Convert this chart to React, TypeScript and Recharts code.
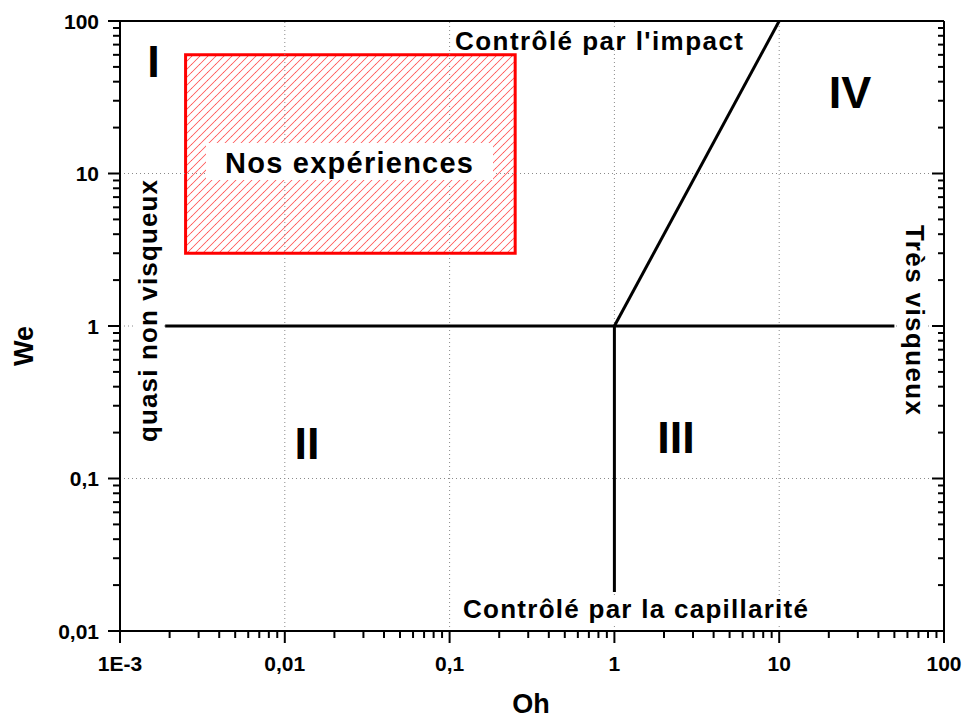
import {
  ComposedChart,
  XAxis,
  YAxis,
  ReferenceLine,
  ReferenceArea,
} from 'recharts';

const FONT = '"Liberation Sans", Arial, Helvetica, sans-serif';

// axis decades and their labels (French decimal comma)
const xMajor = [0.001, 0.01, 0.1, 1, 10, 100];
const xMajorLabels = ['1E-3', '0,01', '0,1', '1', '10', '100'];
const yMajor = [0.01, 0.1, 1, 10, 100];
const yMajorLabels = ['0,01', '0,1', '1', '10', '100'];
const minorSteps = [2, 3, 4, 5, 6, 7, 8, 9];

// regime boundaries (Oh, We)
const lineWeOne = [{ x: 0.00188, y: 1 }, { x: 50, y: 1 }];
const lineOhOne = [{ x: 1, y: 1 }, { x: 1, y: 0.018 }];
const lineImpact = [{ x: 1, y: 1 }, { x: 10, y: 100 }];

// "Nos expériences" box
const expOh = [0.0025, 0.25];
const expWe = [3, 60];

// dotted grid at decades
const xGrid = [0.01, 0.1, 1, 10];
const yGrid = [0.1, 1, 10];

const withMinor = (majors: number[]) => {
  const out: number[] = [];
  majors.forEach((m, i) => {
    out.push(m);
    if (i < majors.length - 1) minorSteps.forEach((s) => out.push(m * s));
  });
  return out;
};

const xTicks = withMinor(xMajor);
const yTicks = withMinor(yMajor);

const majorIndex = (majors: number[], v: number) =>
  majors.findIndex((m) => Math.abs(m - v) / m < 1e-6);

const textStyle = { fontFamily: FONT, fontWeight: 700, fill: '#000' };

const BottomTick = (props: any) => {
  const { x, y, payload } = props;
  const i = majorIndex(xMajor, payload.value);
  if (i < 0) return <line x1={x} x2={x} y1={y} y2={y + 7} stroke="#000" strokeWidth={2} />;
  return (
    <g>
      <line x1={x} x2={x} y1={y} y2={y + 12} stroke="#000" strokeWidth={2} />
      <text x={x} y={y + 40} textAnchor="middle" fontSize={21} {...textStyle}>
        {xMajorLabels[i]}
      </text>
    </g>
  );
};

const TopTick = (props: any) => {
  const { x, y, payload } = props;
  const i = majorIndex(xMajor, payload.value);
  return <line x1={x} x2={x} y1={y} y2={y + (i < 0 ? 6 : 9)} stroke="#000" strokeWidth={2} />;
};

const LeftTick = (props: any) => {
  const { x, y, payload } = props;
  const i = majorIndex(yMajor, payload.value);
  if (i < 0) return <line x1={x - 7} x2={x} y1={y} y2={y} stroke="#000" strokeWidth={2} />;
  return (
    <g>
      <line x1={x - 12} x2={x} y1={y} y2={y} stroke="#000" strokeWidth={2} />
      <text x={x - 21} y={y + 7.5} textAnchor="end" fontSize={21} {...textStyle}>
        {yMajorLabels[i]}
      </text>
    </g>
  );
};

const RightTick = (props: any) => {
  const { x, y, payload } = props;
  const i = majorIndex(yMajor, payload.value);
  return <line x1={x - (i < 0 ? 6 : 12)} x2={x} y1={y} y2={y} stroke="#000" strokeWidth={2} />;
};

const axisCommon = {
  type: 'number' as const,
  scale: 'log' as const,
  allowDataOverflow: true,
  interval: 0 as const,
  tickSize: 0,
  tickMargin: 0,
  tickLine: false,
  axisLine: { stroke: '#000', strokeWidth: 2 },
};

export default function App() {
  return (
    <div style={{ position: 'absolute', left: 0, top: 0, width: 964, height: 720, background: '#fff' }}>
      <svg width={1} height={1} style={{ position: 'absolute', left: 0, top: 0 }}>
        <defs>
          {/* "/" hatching inside the red box: anti-diagonal band + corner pieces */}
          <pattern id="expHatch" x="0" y="0" width="8" height="8" patternUnits="userSpaceOnUse">
            <polygon points="0,7.4 7.4,0 8,0 8,0.6 0.6,8 0,8" fill="#ff4d4d" />
            <polygon points="0,0 0.6,0 0,0.6" fill="#ff4d4d" />
            <polygon points="8,7.4 8,8 7.4,8" fill="#ff4d4d" />
          </pattern>
        </defs>
      </svg>
      <ComposedChart width={964} height={720} margin={{ top: 0, right: 0, bottom: 0, left: 0 }}>
        <XAxis {...axisCommon} xAxisId={0} dataKey="x" orientation="bottom" height={89}
          domain={[0.001, 100]} ticks={xTicks} tick={(p: any) => <BottomTick {...p} />} />
        <XAxis {...axisCommon} xAxisId="top" orientation="top" height={21}
          domain={[0.001, 100]} ticks={xTicks} tick={(p: any) => <TopTick {...p} />} />
        <YAxis {...axisCommon} yAxisId={0} dataKey="y" orientation="left" width={120}
          domain={[0.01, 100]} ticks={yTicks} tick={(p: any) => <LeftTick {...p} />} />
        <YAxis {...axisCommon} yAxisId="right" orientation="right" width={20}
          domain={[0.01, 100]} ticks={yTicks} tick={(p: any) => <RightTick {...p} />} />

        {xGrid.map((v) => (
          <ReferenceLine key={`gx${v}`} x={v} stroke="#8a8a8a" strokeWidth={1} strokeDasharray="1 3" />
        ))}
        {yGrid.map((v) => (
          <ReferenceLine key={`gy${v}`} y={v} stroke="#8a8a8a" strokeWidth={1} strokeDasharray="1 3" />
        ))}

        <ReferenceArea x1={expOh[0]} x2={expOh[1]} y1={expWe[0]} y2={expWe[1]}
          fill="url(#expHatch)" fillOpacity={1} stroke="#ff0000" strokeWidth={3} ifOverflow="visible" />

        <ReferenceLine segment={lineWeOne} stroke="#000" strokeWidth={3} ifOverflow="visible" />
        <ReferenceLine segment={lineOhOne} stroke="#000" strokeWidth={3} ifOverflow="visible" />
        <ReferenceLine segment={lineImpact} stroke="#000" strokeWidth={3} ifOverflow="visible" />
      </ComposedChart>

      <svg width={964} height={720} style={{ position: 'absolute', left: 0, top: 0, pointerEvents: 'none' }}>
        <g {...textStyle}>
          <rect x={206} y={143} width={287} height={37} fill="#fff" />
          <text x={349} y={173} fontSize={29} textAnchor="middle" textLength={248} lengthAdjust="spacing">
            Nos expériences
          </text>

          <rect x={453} y={28} width={292} height={22} fill="#fff" />
          <text x={455} y={50} fontSize={26} textLength={288} lengthAdjust="spacing">
            Contrôlé par l'impact
          </text>

          <rect x={461} y={596} width={349} height={28} fill="#fff" />
          <text x={463} y={618} fontSize={26} textLength={345} lengthAdjust="spacing">
            Contrôlé par la capillarité
          </text>

          <rect x={135} y={178} width={29} height={267} fill="#fff" />
          <text x={0} y={0} fontSize={26} textAnchor="middle" textLength={262} lengthAdjust="spacing"
            transform="translate(157 311) rotate(-90)">
            quasi non visqueux
          </text>

          <rect x={898} y={222} width={30} height={196} fill="#fff" />
          <text x={0} y={0} fontSize={26} textAnchor="middle" textLength={190} lengthAdjust="spacing"
            transform="translate(906 320) rotate(90)">
            Très visqueux
          </text>

          <text x={153.5} y={77} fontSize={45} textAnchor="middle">I</text>
          <text x={307} y={459} fontSize={45} textAnchor="middle">II</text>
          <text x={676} y={453} fontSize={45} textAnchor="middle">III</text>
          <text x={850} y={108} fontSize={45} textAnchor="middle">IV</text>

          <text x={0} y={0} fontSize={27} textAnchor="middle" transform="translate(33 346) rotate(-90)">
            We
          </text>
          <text x={531} y={713} fontSize={27} textAnchor="middle">Oh</text>
        </g>
      </svg>
    </div>
  );
}
